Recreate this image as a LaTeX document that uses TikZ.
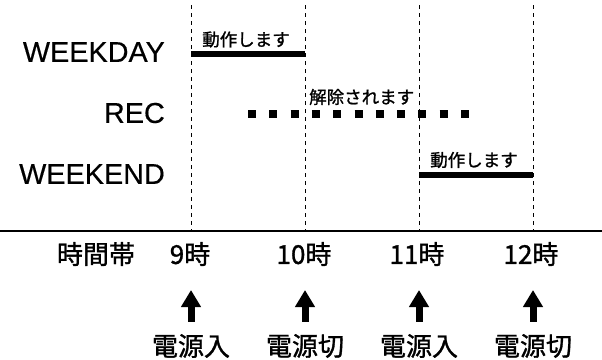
\documentclass[tikz,border=0pt]{standalone}
\usepackage{fontspec}
\setmainfont{Liberation Sans}[FakeBold=0.4]
\newfontfamily\jp{Noto Sans CJK JP}[FakeBold=1.2]
\usetikzlibrary{arrows.meta}

\begin{document}
\begin{tikzpicture}[x=1pt,y=-1pt,
  rowlab/.style={anchor=east,inner sep=0pt,font=\fontsize{28.8}{30}\selectfont},
  bigjp/.style={inner sep=0pt,font=\jp\fontsize{26}{28}\selectfont},
  smalljp/.style={inner sep=0pt,font=\jp\fontsize{17.5}{19}\selectfont},
  bar/.style={line width=6pt},
  guide/.style={line width=1pt,dash pattern=on 4pt off 4pt},
  pwr/.style={line width=7pt,-{Triangle[width=19pt,length=17pt]}}]
\useasboundingbox (0,0) rectangle (602,359);
% hour guides and base line
\foreach \x/\n in {191/a,305/b,419/c,533/d}
  {\coordinate (g\n) at (\x,5); \coordinate (f\n) at (\x,231); \draw[guide] (g\n) -- (f\n);}
\coordinate (L) at (0,231); \coordinate (R) at (602,231);
\draw[line width=1.2pt] (L) -- (R);
% rows
\node[rowlab] (wd) at (165,52) {WEEKDAY};
\node[rowlab] (rec) at (165,113) {REC};
\node[rowlab] (we) at (165,174) {WEEKEND};
\draw[bar] (191,53.5) -- (305,53.5);
\draw[bar] (419,175) -- (533,175);
\draw[line width=7.5pt,dash pattern=on 8pt off 13.3pt] (248,114) -- (472,114);
\node[smalljp] (on1) at (246,39.5) {動作します};
\node[smalljp,anchor=west] (off) at (309,97) {解除されます};
\node[smalljp] (on2) at (474,160) {動作します};
% time axis
\node[bigjp] (tz) at (96,254) {時間帯};
\foreach \x/\h/\n in {190/9/a,304/10/b,417/11/c,531/12/d}
  \node[bigjp] (h\n) at (\x,254) {\h{}時};
% power on / off
\foreach \x/\s/\n in {191/入/a,305/切/b,419/入/c,533/切/d}
  {\node[bigjp] (p\n) at (\x,346) {電源\s};
   \coordinate (tip\n) at (\x,290);
   \draw[pwr] ([yshift=12pt]p\n.north) -- (tip\n);}
\end{tikzpicture}
\end{document}
